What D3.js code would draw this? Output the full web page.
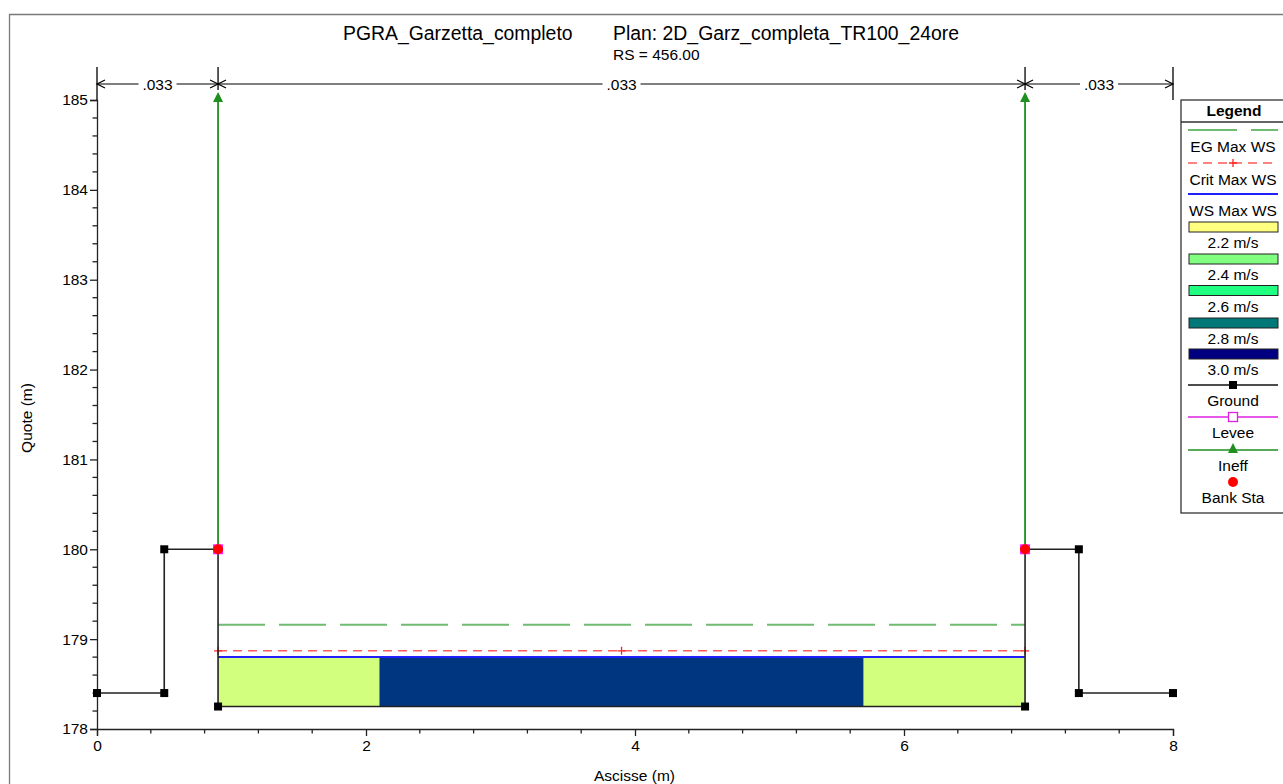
<!DOCTYPE html>
<html><head><meta charset="utf-8">
<script src="https://cdn.jsdelivr.net/npm/d3@7"></script>
<style>
html,body{margin:0;padding:0;background:#fff;}
svg{display:block;font-family:"Liberation Sans",Arial,Helvetica,sans-serif;}
</style></head>
<body><svg id="c" width="1283" height="784"></svg>
<script>
// ---- data ----
const groundSta  = [0, 0.5, 0.5, 0.9, 0.9, 6.9, 6.9, 7.3, 7.3, 8];
const groundElev = [178.4, 178.4, 180, 180, 178.25, 178.25, 180, 180, 178.4, 178.4];
const wsMaxElev   = 178.8;
const critMaxElev = 178.87;
const egMaxElev   = 179.16;
const wsStart = 0.9, wsEnd = 6.9, channelBed = 178.25;
const velStart = [0.9, 2.1, 5.7];
const velEnd   = [2.1, 5.7, 6.9];
const velValue = [2.3, 2.9, 2.3];
const critMarkSta = [0.9, 3.9, 6.9];
const ineffSta = [0.9, 6.9];
const ineffElev = 185;
const bankSta = [0.9, 6.9];
const bankElev = 180;
const nBreaks = [0, 0.9, 6.9, 8];
const nValues = [".033", ".033", ".033"];
const xTicks = [0, 2, 4, 6, 8];
const yTicks = [178, 179, 180, 181, 182, 183, 184, 185];
const legendLabels = ["EG Max WS","Crit Max WS","WS Max WS","2.2 m/s","2.4 m/s","2.6 m/s","2.8 m/s","3.0 m/s","Ground","Levee","Ineff","Bank Sta"];
const legendColors = {"2.2 m/s":"#ffff80","2.4 m/s":"#80ff80","2.6 m/s":"#20ff80","2.8 m/s":"#007878","3.0 m/s":"#000080"};

// ---- setup ----
const svg = d3.select("#c");
const x = d3.scaleLinear().domain([0, 8]).range([97, 1173]);
const y = d3.scaleLinear().domain([178, 185]).range([729, 100]);
const FS = "15.5px";

// frame
svg.append("path").attr("d","M9.5,784 V14.5 H1283").attr("fill","none").attr("stroke","#7a7a7a").attr("stroke-width",1.3);

// title
svg.append("text").attr("x",343).attr("y",40).attr("font-size","19.4px").text("PGRA_Garzetta_completo");
svg.append("text").attr("x",613).attr("y",40).attr("font-size","19.4px").text("Plan: 2D_Garz_completa_TR100_24ore");
svg.append("text").attr("x",613).attr("y",60).attr("font-size","15.5px").text("RS = 456.00");

// axes
const xAxis = d3.axisBottom(x).tickValues(xTicks).tickSize(7).tickPadding(4).tickFormat(d3.format("d"));
const gx = svg.append("g").attr("transform","translate(0,729)").call(xAxis);
gx.selectAll("text").attr("font-size",FS).attr("font-family","Liberation Sans, Arial").attr("fill","#000");
gx.select(".domain").attr("stroke","#222").attr("stroke-width",1.3);
gx.selectAll(".tick line").attr("stroke","#222").attr("stroke-width",1.3);
const xMinor = d3.range(0, 8.001, 0.4).filter(v => Math.abs(v/2 - Math.round(v/2)) > 1e-6);
svg.append("g").selectAll("line").data(xMinor).join("line")
  .attr("x1",d=>x(d)).attr("x2",d=>x(d)).attr("y1",729).attr("y2",733.5).attr("stroke","#222").attr("stroke-width",1.3);

const yAxis = d3.axisLeft(y).tickValues(yTicks).tickSize(7).tickPadding(2).tickFormat(d3.format("d"));
const gy = svg.append("g").attr("transform","translate(97,0)").call(yAxis);
gy.selectAll("text").attr("font-size",FS).attr("font-family","Liberation Sans, Arial").attr("fill","#000");
gy.select(".domain").attr("stroke","#222").attr("stroke-width",1.3);
gy.selectAll(".tick line").attr("stroke","#222").attr("stroke-width",1.3);
const yMinor = d3.range(178, 185.001, 0.2).filter(v => Math.abs(v - Math.round(v)) > 1e-6);
svg.append("g").selectAll("line").data(yMinor).join("line")
  .attr("x1",92.5).attr("x2",97).attr("y1",d=>y(d)).attr("y2",d=>y(d)).attr("stroke","#222").attr("stroke-width",1.3);

svg.append("text").attr("x",634.5).attr("y",781).attr("text-anchor","middle").attr("font-size",FS).text("Ascisse (m)");
svg.append("text").attr("transform","translate(32,418) rotate(-90)").attr("text-anchor","middle").attr("font-size",FS).text("Quote (m)");

// Manning n dimension lines
const dimY = 84;
const dimG = svg.append("g");
nBreaks.forEach(s => {
  dimG.append("line").attr("x1",x(s)).attr("x2",x(s)).attr("y1",67).attr("y2", (s===nBreaks[0]||s===nBreaks[nBreaks.length-1]) ? 100 : 90)
    .attr("stroke","#000").attr("stroke-width",1.3);
});
nValues.forEach((v,i) => {
  const a = x(nBreaks[i]), b = x(nBreaks[i+1]), m = (a+b)/2;
  const tw = 34;
  dimG.append("line").attr("x1",a).attr("x2",m-tw/2-2).attr("y1",dimY).attr("y2",dimY).attr("stroke","#000").attr("stroke-width",1.2);
  dimG.append("line").attr("x1",m+tw/2+2).attr("x2",b).attr("y1",dimY).attr("y2",dimY).attr("stroke","#000").attr("stroke-width",1.2);
  dimG.append("path").attr("d",`M${a+8},${dimY-4} L${a},${dimY} L${a+8},${dimY+4}`).attr("fill","none").attr("stroke","#000").attr("stroke-width",1.2);
  dimG.append("path").attr("d",`M${b-8},${dimY-4} L${b},${dimY} L${b-8},${dimY+4}`).attr("fill","none").attr("stroke","#000").attr("stroke-width",1.2);
  dimG.append("text").attr("x",m).attr("y",dimY+5.5).attr("text-anchor","middle").attr("font-size",FS).text(v);
});

// velocity fills
const velColor = v => v < 2.5 ? "#d2ff7d" : "#00357f";
svg.append("g").selectAll("rect").data(velValue).join("rect")
  .attr("x",(d,i)=>x(velStart[i])).attr("width",(d,i)=>x(velEnd[i])-x(velStart[i]))
  .attr("y",y(wsMaxElev)).attr("height",y(channelBed)-y(wsMaxElev))
  .attr("fill",d=>velColor(d));

// EG line
svg.append("line").attr("x1",x(wsStart)).attr("x2",x(wsEnd)).attr("y1",y(egMaxElev)).attr("y2",y(egMaxElev))
  .attr("stroke","#6fbb6f").attr("stroke-width",2).attr("stroke-dasharray","47,14");
// Crit line
svg.append("line").attr("x1",x(wsStart)).attr("x2",x(wsEnd)+3).attr("y1",y(critMaxElev)).attr("y2",y(critMaxElev))
  .attr("stroke","#ff5a5a").attr("stroke-width",1.6).attr("stroke-dasharray","9,6");
svg.append("g").selectAll("path").data(critMarkSta).join("path")
  .attr("d",d=>`M${x(d)-4},${y(critMaxElev)} h8 M${x(d)},${y(critMaxElev)-4} v8`)
  .attr("stroke","#ff2020").attr("stroke-width",1.3);
// WS line
svg.append("line").attr("x1",x(wsStart)).attr("x2",x(wsEnd)).attr("y1",y(wsMaxElev)).attr("y2",y(wsMaxElev))
  .attr("stroke","#2020ff").attr("stroke-width",2);

// Ineff
svg.append("g").selectAll("line").data(ineffSta).join("line")
  .attr("x1",d=>x(d)).attr("x2",d=>x(d)).attr("y1",y(bankElev)).attr("y2",y(ineffElev))
  .attr("stroke","#1f8f1f").attr("stroke-width",1.8);
svg.append("g").selectAll("path").data(ineffSta).join("path")
  .attr("d",d=>`M${x(d)},${y(ineffElev)-8} L${x(d)+5},${y(ineffElev)+2} L${x(d)-5},${y(ineffElev)+2} Z`)
  .attr("fill","#1f8f1f");

// Ground
const ground = groundSta.map((s,i)=>[s, groundElev[i]]);
svg.append("path").datum(ground).attr("d",d3.line().x(d=>x(d[0])).y(d=>y(d[1])))
  .attr("fill","none").attr("stroke","#222").attr("stroke-width",1.6);
const gPts = ground.filter((d,i)=> !(i>0 && d[0]===ground[i-1][0] && d[1]===ground[i-1][1]));
svg.append("g").selectAll("rect").data(ground).join("rect")
  .attr("x",d=>x(d[0])-4).attr("y",d=>y(d[1])-4).attr("width",8).attr("height",8).attr("fill","#000");

// Bank stations (levee square behind)
svg.append("g").selectAll("rect").data(bankSta).join("rect")
  .attr("x",d=>x(d)-5).attr("y",y(bankElev)-5).attr("width",10).attr("height",10).attr("fill","#ff20ff");
svg.append("g").selectAll("circle").data(bankSta).join("circle")
  .attr("cx",d=>x(d)).attr("cy",y(bankElev)).attr("r",5).attr("fill","#ff0000");

// Legend
const L = svg.append("g");
L.append("rect").attr("x",1181).attr("y",100).attr("width",110).attr("height",413).attr("fill","#fff").attr("stroke","#333").attr("stroke-width",1.3);
L.append("line").attr("x1",1181).attr("x2",1283).attr("y1",122).attr("y2",122).attr("stroke","#333").attr("stroke-width",1.3);
L.append("text").attr("x",1234).attr("y",116).attr("text-anchor","middle").attr("font-size",FS).attr("font-weight","bold").text("Legend");
const lx1 = 1188, lx2 = 1278, lcx = 1233;
const rowY = [130, 163, 194, 227, 259, 290.5, 323, 354, 385, 417, 450, 482];
legendLabels.forEach((lab,i) => {
  const yy = rowY[i];
  if (i===0) {
    L.append("line").attr("x1",lx1).attr("x2",lx2).attr("y1",yy).attr("y2",yy).attr("stroke","#6fbb6f").attr("stroke-width",2).attr("stroke-dasharray","49,14");
  } else if (i===1) {
    L.append("line").attr("x1",lx1).attr("x2",lx2).attr("y1",yy).attr("y2",yy).attr("stroke","#ff5a5a").attr("stroke-width",1.6).attr("stroke-dasharray","9,6");
    L.append("path").attr("d",`M${lcx-4},${yy} h8 M${lcx},${yy-4} v8`).attr("stroke","#ff2020").attr("stroke-width",1.3);
  } else if (i===2) {
    L.append("line").attr("x1",lx1).attr("x2",lx2).attr("y1",yy).attr("y2",yy).attr("stroke","#2020ff").attr("stroke-width",2);
  } else if (legendColors[lab]) {
    L.append("rect").attr("x",lx1+1).attr("y",yy-5).attr("width",lx2-lx1-1).attr("height",10).attr("fill",legendColors[lab]).attr("stroke","#222").attr("stroke-width",1);
  } else if (lab==="Ground") {
    L.append("line").attr("x1",lx1).attr("x2",lx2).attr("y1",yy).attr("y2",yy).attr("stroke","#111").attr("stroke-width",1.5);
    L.append("rect").attr("x",lcx-4).attr("y",yy-4).attr("width",8).attr("height",8).attr("fill","#000");
  } else if (lab==="Levee") {
    L.append("line").attr("x1",lx1).attr("x2",lx2).attr("y1",yy).attr("y2",yy).attr("stroke","#e020e0").attr("stroke-width",1.3);
    L.append("rect").attr("x",lcx-4.5).attr("y",yy-4.5).attr("width",9).attr("height",9).attr("fill","#fff").attr("stroke","#e020e0").attr("stroke-width",1.3);
  } else if (lab==="Ineff") {
    L.append("line").attr("x1",lx1).attr("x2",lx2).attr("y1",yy).attr("y2",yy).attr("stroke","#1f8f1f").attr("stroke-width",1.5);
    L.append("path").attr("d",`M${lcx},${yy-7} L${lcx+5},${yy+3} L${lcx-5},${yy+3} Z`).attr("fill","#1f8f1f");
  } else if (lab==="Bank Sta") {
    L.append("circle").attr("cx",lcx).attr("cy",yy).attr("r",5).attr("fill","#ff0000");
  }
  L.append("text").attr("x",lcx).attr("y",yy+ (i<3?21.5:21)).attr("text-anchor","middle").attr("font-size",FS).text(lab);
});
</script>
</body></html>
